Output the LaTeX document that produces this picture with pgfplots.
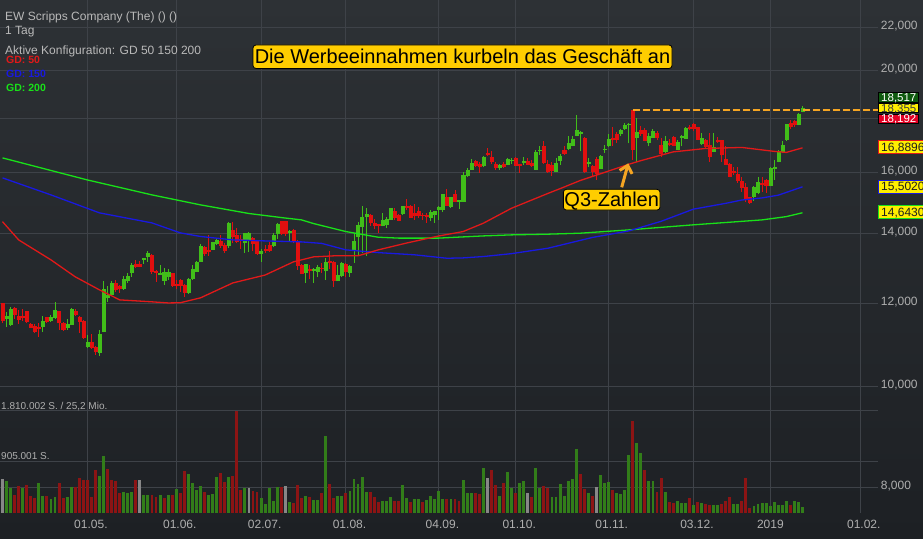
\documentclass[border=0pt]{standalone}
\usepackage{fontspec}
\setmainfont{Liberation Sans}
\usepackage{pgfplots}
\pgfplotsset{compat=1.18}
\usepackage{pgfplotstable}
\usetikzlibrary{arrows.meta}

\definecolor{bgtop}{RGB}{45,49,53}
\definecolor{bgbot}{RGB}{29,32,36}
\definecolor{gridc}{RGB}{62,66,72}
\definecolor{cup}{RGB}{65,190,25}
\definecolor{cdn}{RGB}{225,15,15}
\definecolor{vup}{RGB}{50,125,25}
\definecolor{vdn}{RGB}{140,20,20}
\definecolor{vgr}{RGB}{135,135,135}
\definecolor{txtg}{RGB}{175,175,175}
\definecolor{hdr}{RGB}{185,185,185}
\definecolor{ma50}{RGB}{225,25,25}
\definecolor{ma150}{RGB}{25,25,225}
\definecolor{ma200}{RGB}{25,225,25}
\definecolor{boxy}{RGB}{255,205,0}
\definecolor{valy}{RGB}{255,238,0}
\definecolor{orng}{RGB}{245,165,35}
\definecolor{dkgreen}{RGB}{15,90,15}
\definecolor{boxred}{RGB}{225,0,35}

\pgfplotstableread{
i O H L C
0 12000 12020 11490 11555
1 11604 11784 11388 11655
2 11470 11915 11420 11846
3 11872 11898 11588 11723
4 11673 11828 11470 11588
5 11673 11846 11553 11640
6 11802 11810 11503 11528
7 11463 11503 11370 11378
8 11420 11463 11240 11278
9 11388 11488 11142 11353
10 11403 11673 11278 11546
11 11640 11655 11503 11546
12 11555 11690 11520 11640
13 11640 12037 11604 11828
14 11794 11810 11320 11503
15 11488 11513 11303 11345
16 11388 11588 11320 11470
17 11470 11880 11445 11854
18 11802 11846 11673 11716
19 11640 11673 11240 11528
20 11546 11560 11107 11142
21 10912 11191 10874 11010
22 11017 11225 10857 10898
23 10890 10930 10715 10792
24 10770 11320 10698 11222
25 11296 12616 11255 12387
26 12164 12470 12045 12228
27 12250 12607 12222 12545
28 12545 12635 12314 12380
29 12452 12506 12287 12397
30 12415 12747 12360 12654
31 12635 12822 12560 12728
32 12838 13108 12728 13059
33 13088 13202 12963 13010
34 13088 13173 12990 13020
35 13212 13253 13088 13241
36 13300 13475 13153 13399
37 13340 13360 12800 12886
38 12867 12915 12582 12838
39 12800 13069 12767 12822
40 12620 12960 12500 12860
41 12747 12943 12635 12840
42 12822 12840 12452 12496
43 12525 12635 12378 12500
44 12635 12650 12314 12496
45 12496 12510 12164 12290
46 12290 12682 12250 12654
47 12682 13069 12635 12943
48 12886 13173 12850 13122
49 13173 13667 13153 13616
50 13576 13616 13318 13396
51 13475 13950 13318 13450
52 13516 13745 13496 13727
53 13694 13850 13650 13775
54 13745 13950 13565 13625
55 13625 13700 13415 13496
56 13650 14340 13546 14320
57 14102 14340 13694 13896
58 13948 14155 13694 13745
59 13815 13950 13516 13775
60 13714 14000 13415 13990
61 13780 14030 13440 14000
62 13847 13896 13450 13694
63 13745 13795 13357 13396
64 13396 13516 13153 13450
65 13516 13650 13415 13475
66 13650 13745 13445 13496
67 13650 14020 13596 13948
68 14000 14313 13815 14280
69 14380 14390 13948 14000
70 14370 14390 13900 14010
71 14030 14102 13745 14050
72 14081 14123 13694 13745
73 13745 13795 12915 13059
74 13059 13088 12800 12822
75 12840 13088 12560 13080
76 12940 13059 12654 12915
77 12900 12963 12545 12930
78 12867 13059 12710 12990
79 12970 13108 12822 12950
80 12915 13250 12635 13130
81 13170 13475 12935 13140
82 13130 13170 12452 12616
83 12635 13059 12600 12756
84 12756 13153 12710 13110
85 13080 13110 12728 12867
86 12840 13059 12728 13030
87 13496 14000 13114 13770
88 13896 14363 13340 14260
89 14210 14853 13400 14500
90 14540 14810 13320 14605
91 14575 14590 14235 14330
92 14310 14437 14125 14260
93 14290 14300 14020 14260
94 14260 14630 14210 14416
95 14290 14500 14155 14437
96 14437 14810 14416 14790
97 14700 14790 14416 14500
98 14575 14610 14365 14416
99 14620 14860 14575 14840
100 14850 15100 14736 14810
101 14870 14880 14470 14500
102 14620 14930 14416 14555
103 14680 14840 14470 14555
104 14570 14640 14416 14550
105 14550 14640 14330 14530
106 14510 14720 14365 14650
107 14610 14700 14330 14690
108 14750 14860 14416 14820
109 14750 15250 14680 15240
110 15150 15430 14870 14900
111 14870 15170 14790 15150
112 15250 15398 14980 15030
113 15030 15064 14760 15050
114 15030 16030 15000 15900
115 15890 16150 15850 16070
116 16110 16470 16090 16330
117 16390 16447 16210 16270
118 16300 16360 15980 16210
119 16270 16590 16210 16540
120 16700 16880 16590 16640
121 16545 16790 16300 16385
122 16300 16385 16089 16170
123 16170 16300 16089 16270
124 16300 16385 16150 16210
125 16300 16500 16270 16460
126 16420 16510 16300 16447
127 16510 16570 16240 16270
128 16290 16300 15990 16270
129 16370 16570 16270 16385
130 16410 16510 16270 16300
131 16330 16447 16210 16270
132 16120 16818 16110 16730
133 16800 16945 16640 16820
134 16960 17130 16300 16350
135 16300 16447 15980 16030
136 16270 16385 15890 16089
137 16060 16510 16050 16330
138 16447 16670 16270 16570
139 16818 16945 16640 16700
140 16880 17340 16818 17070
141 17000 17340 16945 17220
142 17380 18160 17320 17575
143 17450 17510 16760 17480
144 17260 17300 15980 16030
145 16330 16510 16210 16360
146 16210 16270 15860 16060
147 16480 16540 15739 15980
148 16150 16640 16120 16570
149 16830 17000 16700 16850
150 16970 17410 16920 17220
151 17260 17700 16950 17210
152 17420 17480 17080 17196
153 17450 17600 17320 17575
154 17640 17830 17575 17770
155 17780 17830 17060 17810
156 18340 18355 16447 16840
157 17290 18030 16385 17480
158 17550 17735 17340 17450
159 17540 17640 17130 17170
160 17100 17440 16945 17340
161 17290 17600 17250 17510
162 17450 17510 17196 17300
163 16970 17260 16545 16700
164 16760 17340 16700 17130
165 17080 17220 16945 17040
166 17300 17320 16945 17000
167 16840 17196 16818 17100
168 17300 17390 16945 17320
169 17260 17680 17230 17640
170 17680 17750 17575 17650
171 17810 17830 17510 17640
172 17660 17680 17196 17220
173 17070 17450 17000 17260
174 17170 17220 16880 16945
175 17000 17450 16385 16570
176 16780 17450 16730 16910
177 17180 17300 17080 17150
178 17170 17180 16385 16660
179 16470 16945 16270 16300
180 16300 16320 15830 15860
181 16040 16210 15920 16000
182 15950 16210 15650 15739
183 15710 15830 15340 15490
184 15490 15650 15000 15090
185 15150 15170 14920 15000
186 15170 15530 15030 15490
187 15310 15830 15250 15650
188 15630 15830 15340 15600
189 15739 15760 15310 15570
190 15570 16210 15530 16150
191 16140 16447 15739 16170
192 16385 16818 16360 16750
193 16780 17130 16700 17000
194 17196 17810 17150 17780
195 17840 17960 17600 17700
196 17900 17960 17700 17780
197 17780 18230 17750 18200
198 18290 18500 18260 18420
}\candles

\pgfplotstableread{
i V c
0 603 2
1 568 1
2 438 1
3 319 0
4 485 0
5 449 1
6 497 0
7 302 0
8 260 0
9 538 1
10 308 1
11 302 0
12 254 1
13 284 1
14 526 0
15 272 0
16 278 1
17 467 1
18 461 0
19 621 0
20 586 0
21 586 0
22 284 0
23 763 0
24 662 1
25 1017 1
26 787 0
27 586 0
28 568 0
29 361 0
30 373 1
31 349 1
32 367 1
33 580 0
34 580 2
35 314 1
36 314 1
37 325 0
38 290 0
39 314 1
40 260 0
41 325 1
42 319 0
43 420 1
44 361 0
45 739 0
46 686 1
47 526 1
48 408 1
49 485 1
50 373 0
51 314 1
52 331 1
53 633 1
54 716 0
55 556 0
56 633 1
57 657 0
58 1810 0
59 408 0
60 438 1
61 438 2
62 390 0
63 379 0
64 260 1
65 154 1
66 438 1
67 207 1
68 461 1
69 467 0
70 473 2
71 189 1
72 183 0
73 491 0
74 272 0
75 308 1
76 278 0
77 231 1
78 225 1
79 355 0
80 1366 1
81 521 0
82 272 0
83 296 1
84 302 1
85 349 0
86 390 1
87 597 1
88 508 1
89 633 1
90 379 1
91 379 0
92 290 0
93 195 0
94 219 1
95 207 1
96 278 1
97 207 0
98 213 0
99 497 1
100 272 1
101 201 0
102 248 1
103 248 1
104 189 0
105 237 1
106 308 1
107 242 1
108 390 1
109 242 1
110 254 0
111 248 1
112 248 0
113 219 0
114 586 1
115 349 1
116 349 1
117 361 0
118 337 0
119 793 1
120 615 2
121 763 0
122 497 0
123 296 1
124 538 0
125 722 1
126 438 1
127 349 0
128 538 1
129 562 1
130 349 2
131 290 0
132 793 1
133 444 1
134 479 0
135 438 0
136 290 1
137 290 1
138 515 1
139 302 1
140 574 1
141 597 1
142 1136 1
143 686 0
144 432 0
145 361 1
146 308 0
147 455 2
148 668 1
149 526 1
150 550 1
151 408 0
152 361 1
153 337 1
154 408 1
155 1029 1
156 1639 0
157 1236 1
158 1059 1
159 769 0
160 574 1
161 574 1
162 367 0
163 627 0
164 373 1
165 201 0
166 172 0
167 213 1
168 183 1
169 183 1
170 272 0
171 142 1
172 201 0
173 172 1
174 160 0
175 136 0
176 142 1
177 142 1
178 154 0
179 213 0
180 290 0
181 160 1
182 160 1
183 213 0
184 627 0
185 95 0
186 130 1
187 160 1
188 172 1
189 172 1
190 130 1
191 189 1
192 142 1
193 142 1
194 213 1
195 142 0
196 213 1
197 189 1
198 112 1
}\vols

\pgfplotsset{base/.style={at={(0pt,25pt)}, anchor=south west, scale only axis,
  width=878pt, height=513pt, xmin=-0.62, xmax=216.7}}

\begin{document}
\begin{tikzpicture}[x=1pt,y=1pt]
\shade[top color=bgtop, bottom color=bgbot] (0,0) rectangle (923,538);

% grid and tick labels (price, log scale)
\begin{axis}[base, ymode=log, ymin=7571, ymax=23376,
  axis line style={draw=none},
  xtick={21,43,64,85,108,127,150,171,190,212.3},
  xticklabels={01.05.,01.06.,02.07.,01.08.,04.09.,01.10.,01.11.,03.12.,2019,01.02.},
  ytick={8000,10000,12000,14000,16000,18000,20000,22000},
  yticklabels={{8,000},{10,000},{12,000},{14,000},{16,000},{},{20,000},{22,000}},
  yticklabel pos=right,
  major tick length=0pt, minor tick num=0,
  grid=major,
  major grid style={draw=gridc, line width=1pt},
  ticklabel style={text=txtg, font=\fontsize{12}{14}\selectfont, inner sep=0pt},
  xticklabel style={anchor=base west, xshift=-13.3pt, yshift=-15.3pt},
  yticklabel style={anchor=base west, xshift=2.7pt, yshift=-2pt},
]
\end{axis}

% volume
\begin{axis}[base, ymin=0, ymax=9103,
  axis line style={draw=none}, xtick=\empty,
  ytick={905.001,1810.002}, yticklabel=\empty,
  ymajorgrids, major tick length=0pt,
  major grid style={draw=gridc, line width=1pt}]
\pgfplotsinvokeforeach{0,...,198}{%
  \pgfplotstablegetelem{#1}{V}\of\vols \edef\vV{\pgfplotsretval}%
  \pgfplotstablegetelem{#1}{c}\of\vols \edef\vc{\pgfplotsretval}%
  \pgfmathsetmacro\xa{#1-0.36}\pgfmathsetmacro\xb{#1+0.36}%
  \ifcase\vc\relax \def\cc{vdn}\or \def\cc{vup}\else \def\cc{vgr}\fi
  \edef\tmp{\noexpand\addplot[forget plot, fill=\cc, draw=none] coordinates {(\xa,0) (\xb,0) (\xb,\vV) (\xa,\vV)};}%
  \tmp
}
\end{axis}

% candles and averages
\begin{axis}[base, ymode=log, ymin=7571, ymax=23376, hide axis]
\pgfplotsinvokeforeach{0,...,198}{%
  \pgfplotstablegetelem{#1}{O}\of\candles \edef\vO{\pgfplotsretval}%
  \pgfplotstablegetelem{#1}{H}\of\candles \edef\vH{\pgfplotsretval}%
  \pgfplotstablegetelem{#1}{L}\of\candles \edef\vL{\pgfplotsretval}%
  \pgfplotstablegetelem{#1}{C}\of\candles \edef\vC{\pgfplotsretval}%
  \pgfmathsetmacro\xa{#1-0.4}\pgfmathsetmacro\xb{#1+0.4}%
  \ifnum\vC<\vO\relax \def\cc{cdn}\else \def\cc{cup}\fi
  \edef\tmp{\noexpand\addplot[forget plot, draw=\cc, line width=1pt] coordinates {(#1,\vL) (#1,\vH)};%
    \noexpand\addplot[forget plot, fill=\cc, draw=\cc, line width=0.4pt] coordinates {(\xa,\vO) (\xb,\vO) (\xb,\vC) (\xa,\vC)};}%
  \tmp
}
\addplot[ma200, line width=1.3pt] coordinates {(0,16520) (21,15739) (37,15230) (49,14900) (61,14620) (69,14490) (74,14416) (77,14300) (85,14050) (93,13877) (98,13850) (108,13850) (119,13917) (126,13948) (135,13970) (143,14000) (155,14102) (171,14260) (188,14416) (194,14520) (198,14643)};
\addplot[ma150, line width=1.3pt] coordinates {(0,15810) (12,15230) (24,14640) (37,14320) (44,14010) (49,13900) (57,13795) (65,13765) (74,13735) (79,13690) (85,13496) (93,13415) (102,13350) (110,13250) (114,13260) (119,13300) (126,13385) (135,13545) (143,13780) (146,13870) (155,14070) (163,14370) (171,14760) (179,14950) (183,15060) (188,15130) (192,15220) (198,15502)};
\addplot[ma50, line width=1.3pt] coordinates {(0,14360) (4,13795) (12,13202) (18,12720) (24,12360) (27,12200) (29,12091) (37,12040) (41,12010) (44,12015) (49,12145) (57,12550) (65,12770) (72,13145) (77,13290) (82,13320) (88,13320) (93,13496) (100,13700) (108,13915) (114,14050) (119,14310) (126,14790) (135,15280) (138,15440) (143,15720) (150,16050) (155,16290) (158,16420) (166,16740) (174,16866) (183,16904) (191,16760) (194,16720) (198,16890)};
\addplot[orng, line width=2pt, dash pattern=on 7pt off 3pt] coordinates {(156,18355) (216.7,18355)};
\end{axis}

% header texts
\node[anchor=base west, inner sep=0, text=hdr, font=\fontsize{12}{14}\selectfont] at (5,517.7) {EW Scripps Company (The) () ()};
\node[anchor=base west, inner sep=0, text=hdr, font=\fontsize{12}{14}\selectfont] at (5,503.3) {1 Tag};
\node[anchor=base west, inner sep=0, text=hdr, font=\fontsize{12}{14}\selectfont] at (5,483) {Aktive Konfiguration: GD 50 150 200};
\node[anchor=base west, inner sep=0, text=ma50, font=\bfseries\fontsize{10.5}{12}\selectfont] at (6,474) {GD: 50};
\node[anchor=base west, inner sep=0, text=ma150, font=\bfseries\fontsize{10.5}{12}\selectfont] at (6,460) {GD: 150};
\node[anchor=base west, inner sep=0, text=ma200, font=\bfseries\fontsize{10.5}{12}\selectfont] at (6,446.3) {GD: 200};
% volume labels
\node[anchor=base west, inner sep=0, text=txtg, font=\fontsize{10}{12}\selectfont] at (1,128.7) {1.810.002 S. / 25,2 Mio.};
\node[anchor=base west, inner sep=0, text=txtg, font=\fontsize{10}{12}\selectfont] at (1,78) {905.001 S.};

% title box
\node[fill=boxy, draw=black, line width=0.8pt, rounded corners=3pt, minimum width=419pt, minimum height=23.5pt, inner sep=0pt, text height=14.3pt, text depth=0pt, font=\fontsize{20}{24}\selectfont] at (462.5,481.25) {Die Werbeeinnahmen kurbeln das Geschäft an};

% Q3 annotation
\draw[orng, line width=3pt, -{Straight Barb[length=7pt, width=13pt]}] (621.7,350.7) -- (628.3,374.7);
\node[fill=boxy, draw=black, line width=0.8pt, rounded corners=3pt, minimum width=96.7pt, minimum height=20.7pt, inner sep=0pt, text height=14.3pt, text depth=0pt, font=\fontsize{20}{24}\selectfont] at (611.7,338.3) {Q3-Zahlen};

% right value boxes
\tikzset{pbox/.style={anchor=west, inner xsep=2.5pt, inner ysep=0pt, text height=8.3pt, text depth=0pt, font=\fontsize{11.5}{13}\selectfont, line width=0.8pt}}
\node[pbox, fill=dkgreen, draw=black, text=white, minimum height=9.3pt] at (878.3,440.6) {18,517};
\node[pbox, fill=valy, draw=black, text={rgb,255:red,60;green,60;blue,60}, minimum height=9.3pt] at (878.3,430) {18,355};
\node[pbox, fill=boxred, draw=black, text=white, minimum height=9.3pt] at (878.3,419.4) {18,192};
\node[pbox, fill=valy, draw=ma50, text={rgb,255:red,30;green,30;blue,30}, minimum height=13pt, font=\fontsize{12}{14}\selectfont, text height=8.6pt] at (878.3,391) {16,8896};
\node[pbox, fill=valy, draw=ma150, text={rgb,255:red,30;green,30;blue,30}, minimum height=13pt, font=\fontsize{12}{14}\selectfont, text height=8.6pt] at (878.3,351.3) {15,5020};
\node[pbox, fill=valy, draw=ma200, text={rgb,255:red,30;green,30;blue,30}, minimum height=13pt, font=\fontsize{12}{14}\selectfont, text height=8.6pt] at (878.3,325.8) {14,6430};

\pgfresetboundingbox
\path[use as bounding box] (0,0) rectangle (923,538);
\end{tikzpicture}
\end{document}
